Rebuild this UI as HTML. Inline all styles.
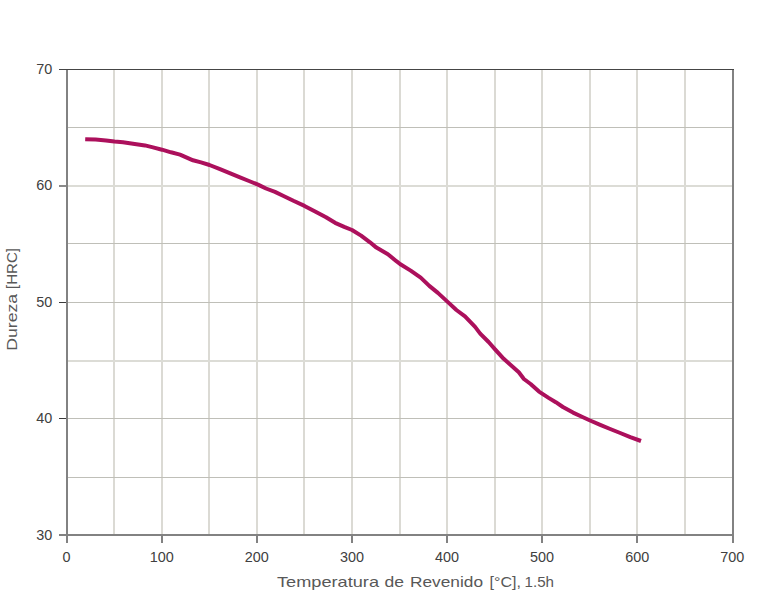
<!DOCTYPE html>
<html><head><meta charset="utf-8"><style>
html,body{margin:0;padding:0;background:#fff;}
svg{display:block;}
text{font-family:"Liberation Sans",sans-serif;}
</style></head><body>
<svg width="768" height="595" viewBox="0 0 768 595">
<rect width="768" height="595" fill="#fff"/>
<rect x="113" y="69" width="2" height="466" fill="#dbdad4"/><rect x="161" y="69" width="2" height="466" fill="#dbdad4"/><rect x="208" y="69" width="2" height="466" fill="#dbdad4"/><rect x="256" y="69" width="2" height="466" fill="#dbdad4"/><rect x="303" y="69" width="2" height="466" fill="#dbdad4"/><rect x="351" y="69" width="2" height="466" fill="#dbdad4"/><rect x="399" y="69" width="2" height="466" fill="#dbdad4"/><rect x="446" y="69" width="2" height="466" fill="#dbdad4"/><rect x="494" y="69" width="2" height="466" fill="#dbdad4"/><rect x="541" y="69" width="2" height="466" fill="#dbdad4"/><rect x="589" y="69" width="2" height="466" fill="#dbdad4"/><rect x="636" y="69" width="2" height="466" fill="#dbdad4"/><rect x="684" y="69" width="2" height="466" fill="#dbdad4"/><rect x="68" y="127" width="664" height="1" fill="#bfbfb8"/><rect x="68" y="243" width="664" height="1" fill="#bfbfb8"/><rect x="68" y="302" width="664" height="1" fill="#bfbfb8"/><rect x="68" y="418" width="664" height="1" fill="#bfbfb8"/><rect x="68" y="477" width="664" height="1" fill="#bfbfb8"/><rect x="68" y="185" width="664" height="2" fill="#dcdcd6"/><rect x="68" y="360" width="664" height="2" fill="#dcdcd6"/>
<rect x="66" y="69" width="2" height="467" fill="#828282"/><rect x="732" y="69" width="2" height="467" fill="#828282"/><rect x="59" y="534" width="675" height="2" fill="#828282"/><rect x="59" y="69" width="675" height="1" fill="#454545"/><rect x="66" y="536" width="2" height="7" fill="#828282"/><rect x="161" y="536" width="2" height="7" fill="#828282"/><rect x="256" y="536" width="2" height="7" fill="#828282"/><rect x="351" y="536" width="2" height="7" fill="#828282"/><rect x="446" y="536" width="2" height="7" fill="#828282"/><rect x="541" y="536" width="2" height="7" fill="#828282"/><rect x="636" y="536" width="2" height="7" fill="#828282"/><rect x="732" y="536" width="2" height="7" fill="#828282"/><rect x="59" y="185" width="7" height="2" fill="#8a8a8a"/><rect x="59" y="302" width="7" height="1" fill="#3a3a3a"/><rect x="59" y="418" width="7" height="1" fill="#3a3a3a"/>
<g fill="#404040" font-size="15" text-anchor="middle" transform="scale(0.96,1)"><text x="69.38" y="562">0</text><text x="168.44" y="562">100</text><text x="267.50" y="562">200</text><text x="366.56" y="562">300</text><text x="465.62" y="562">400</text><text x="564.69" y="562">500</text><text x="663.75" y="562">600</text><text x="762.81" y="562">700</text></g>
<g fill="#404040" font-size="15" text-anchor="end" transform="scale(0.96,1)"><text x="54.48" y="73.80">70</text><text x="54.48" y="190.27">60</text><text x="54.48" y="306.75">50</text><text x="54.48" y="423.22">40</text><text x="54.48" y="539.70">30</text></g>
<path d="M85.2,139.2 L95.6,139.6 L106.0,140.4 L114.5,141.5 L123.0,142.2 L134.7,143.9 L145.0,145.4 L153.0,147.4 L162.0,149.7 L171.0,152.3 L180.0,154.6 L193.0,160.3 L201.0,162.4 L209.5,165.0 L220.6,169.4 L229.7,173.2 L240.0,177.4 L249.0,181.0 L258.0,184.6 L266.0,188.5 L275.0,191.9 L283.0,195.7 L293.4,200.8 L304.5,205.9 L315.6,211.7 L326.0,217.3 L335.1,222.8 L344.2,226.8 L352.0,230.0 L361.1,235.6 L370.0,242.3 L376.4,247.6 L387.9,254.2 L396.4,261.2 L400.0,264.0 L410.7,270.6 L420.7,277.6 L429.3,285.9 L437.9,292.9 L447.1,301.4 L456.4,310.0 L465.0,316.4 L475.1,326.9 L480.2,333.6 L488.6,342.0 L495.3,349.6 L503.7,358.8 L510.4,364.7 L518.8,372.3 L523.9,379.0 L530.6,384.0 L539.0,391.6 L548.6,397.9 L555.8,402.2 L562.9,407.0 L573.0,412.6 L583.0,417.2 L590.1,420.5 L600.2,424.8 L610.2,429.0 L620.2,433.0 L630.3,437.1 L641.0,441.0" fill="none" stroke="#ac105c" stroke-width="4" stroke-linejoin="round" stroke-linecap="butt"/>
<g font-size="15" fill="#585858"><text x="277.00" y="587" textLength="102.00" lengthAdjust="spacingAndGlyphs">Temperatura</text><text x="384.50" y="587" textLength="19.50" lengthAdjust="spacingAndGlyphs">de</text><text x="410.00" y="587" textLength="73.00" lengthAdjust="spacingAndGlyphs">Revenido</text><text x="489.50" y="587" textLength="31.50" lengthAdjust="spacingAndGlyphs">[°C],</text><text x="524.50" y="587" textLength="29.50" lengthAdjust="spacingAndGlyphs">1.5h</text></g>
<g font-size="15" fill="#585858" transform="translate(16.7,0) rotate(-90)"><text x="-350.80" y="0" textLength="57.00" lengthAdjust="spacingAndGlyphs">Dureza</text><text x="-289.00" y="0" textLength="41.00" lengthAdjust="spacingAndGlyphs">[HRC]</text></g>
</svg>
</body></html>
